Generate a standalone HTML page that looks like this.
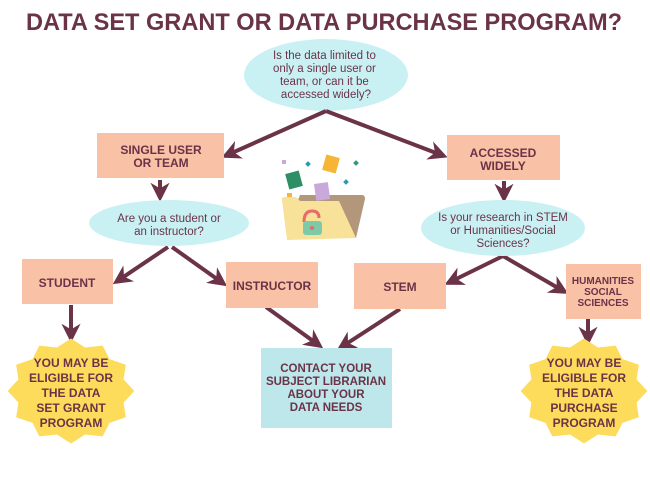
<!DOCTYPE html>
<html><head><meta charset="utf-8"><style>
html,body{margin:0;padding:0;background:#fff;}
svg{display:block;}
text{font-family:"Liberation Sans",sans-serif;fill:#6b3347;}
.b{font-weight:bold;}
</style></head><body>
<svg width="650" height="488" viewBox="0 0 650 488" xmlns="http://www.w3.org/2000/svg">
<defs>
<marker id="a" viewBox="0 0 10 10" refX="8" refY="5" markerWidth="4.8" markerHeight="4.8" orient="auto-start-reverse">
<path d="M0,0 L10,5 L0,10 L3,5 z" fill="#6b3347"/>
</marker>
<polygon id="star" points="64,0 53.1,14.2 55.4,32 38.9,38.9 32,55.4 14.2,53.1 0,64 -14.2,53.1 -32,55.4 -38.9,38.9 -55.4,32 -53.1,14.2 -64,0 -53.1,-14.2 -55.4,-32 -38.9,-38.9 -32,-55.4 -14.2,-53.1 0,-64 14.2,-53.1 32,-55.4 38.9,-38.9 55.4,-32 53.1,-14.2"/>
</defs>
<text x="26" y="30" class="b" font-size="24" textLength="596" lengthAdjust="spacingAndGlyphs">DATA SET GRANT OR DATA PURCHASE PROGRAM?</text>

<ellipse cx="326" cy="75" rx="82" ry="36" fill="#c9f1f4"/>
<text text-anchor="middle" font-size="11.5">
<tspan x="326" y="59">Is the data limited to</tspan>
<tspan x="326" y="72">only a single user or</tspan>
<tspan x="326" y="85">team, or can it be</tspan>
<tspan x="326" y="98">accessed widely?</tspan>
</text>

<g stroke="#6b3347" stroke-width="4" fill="none" marker-end="url(#a)">
<path d="M326,111 L225,156"/>
<path d="M326,111 L444,156"/>
<path d="M160,180 L160,198"/>
<path d="M504,181 L504,199"/>
<path d="M168,247 L116,282"/>
<path d="M172,247 L224,284"/>
<path d="M503,256 L448,283"/>
<path d="M503,256 L565,292"/>
<path d="M71,305 L71,339"/>
<path d="M266,307 L320,346"/>
<path d="M400,309 L340,348"/>
<path d="M588,319 L588,342"/>
</g>

<rect x="97" y="133" width="127" height="45" fill="#f9c1a6"/>
<text text-anchor="middle" class="b" font-size="12"><tspan x="161" y="154">SINGLE USER</tspan><tspan x="161" y="167">OR TEAM</tspan></text>
<rect x="447" y="135" width="113" height="45" fill="#f9c1a6"/>
<text text-anchor="middle" class="b" font-size="12"><tspan x="503" y="157">ACCESSED</tspan><tspan x="503" y="170">WIDELY</tspan></text>

<ellipse cx="169" cy="223" rx="80" ry="23" fill="#c9f1f4"/>
<text text-anchor="middle" font-size="11.5"><tspan x="169" y="222">Are you a student or</tspan><tspan x="169" y="235">an instructor?</tspan></text>
<ellipse cx="503" cy="228" rx="82" ry="28" fill="#c9f1f4"/>
<text text-anchor="middle" font-size="11.5"><tspan x="503" y="221">Is your research in STEM</tspan><tspan x="503" y="234">or Humanities/Social</tspan><tspan x="503" y="247">Sciences?</tspan></text>

<!-- folder -->
<rect x="282" y="160" width="4" height="4" fill="#c9a8dc"/>
<rect x="306" y="162" width="4" height="4" fill="#2a9ab0" transform="rotate(45 308 164)"/>
<rect x="324" y="156" width="14" height="16" fill="#f6b534" transform="rotate(15 331 164)"/>
<rect x="354" y="161" width="4" height="4" fill="#2e9c6f" transform="rotate(45 356 163)"/>
<rect x="287" y="172" width="14" height="16" fill="#2e8f66" transform="rotate(-15 294 180)"/>
<rect x="344" y="180" width="4" height="4" fill="#2a9ab0" transform="rotate(45 346 182)"/>
<rect x="287" y="193" width="5" height="5" fill="#f6b534"/>
<path d="M298,200 L300,195 L362,195 Q365,195 365,199 L356,238 L298,238 z" fill="#b3977a"/>
<rect x="315" y="183" width="14" height="17" fill="#c9a8dc" transform="rotate(-8 322 191)"/>
<path d="M282,200 Q281,197 285,197 L296,197 L300,201 L339,201 L356,238 L287,240 z" fill="#f8e199"/>
<path d="M304,222 Q304,211 312,211 Q319,211 319,218" stroke="#e86a6a" stroke-width="3" fill="none"/>
<rect x="303" y="221" width="19" height="14" rx="3" fill="#7ccaa8"/>
<circle cx="312" cy="228" r="2" fill="#e86a6a"/>

<rect x="22" y="259" width="91" height="45" fill="#f9c1a6"/>
<text x="67" y="287" text-anchor="middle" class="b" font-size="12">STUDENT</text>
<rect x="226" y="262" width="92" height="46" fill="#f9c1a6"/>
<text x="272" y="290" text-anchor="middle" class="b" font-size="12">INSTRUCTOR</text>
<rect x="354" y="263" width="92" height="46" fill="#f9c1a6"/>
<text x="400" y="291" text-anchor="middle" class="b" font-size="12">STEM</text>
<rect x="566" y="264" width="75" height="55" fill="#f9c1a6"/>
<text text-anchor="middle" class="b" font-size="10"><tspan x="603" y="284">HUMANITIES</tspan><tspan x="603" y="295">SOCIAL</tspan><tspan x="603" y="306">SCIENCES</tspan></text>

<rect x="261" y="348" width="131" height="80" fill="#bde7ea"/>
<text text-anchor="middle" class="b" font-size="11.5"><tspan x="326" y="372">CONTACT YOUR</tspan><tspan x="326" y="385">SUBJECT LIBRARIAN</tspan><tspan x="326" y="398">ABOUT YOUR</tspan><tspan x="326" y="411">DATA NEEDS</tspan></text>

<use href="#star" transform="translate(71,391) scale(0.99,0.82)" fill="#fddc5c"/>
<text text-anchor="middle" class="b" font-size="12"><tspan x="71" y="367">YOU MAY BE</tspan><tspan x="71" y="382">ELIGIBLE FOR</tspan><tspan x="71" y="397">THE DATA</tspan><tspan x="71" y="412">SET GRANT</tspan><tspan x="71" y="427">PROGRAM</tspan></text>
<use href="#star" transform="translate(584,391) scale(0.99,0.82)" fill="#fddc5c"/>
<text text-anchor="middle" class="b" font-size="12"><tspan x="584" y="367">YOU MAY BE</tspan><tspan x="584" y="382">ELIGIBLE FOR</tspan><tspan x="584" y="397">THE DATA</tspan><tspan x="584" y="412">PURCHASE</tspan><tspan x="584" y="427">PROGRAM</tspan></text>
</svg>
</body></html>
